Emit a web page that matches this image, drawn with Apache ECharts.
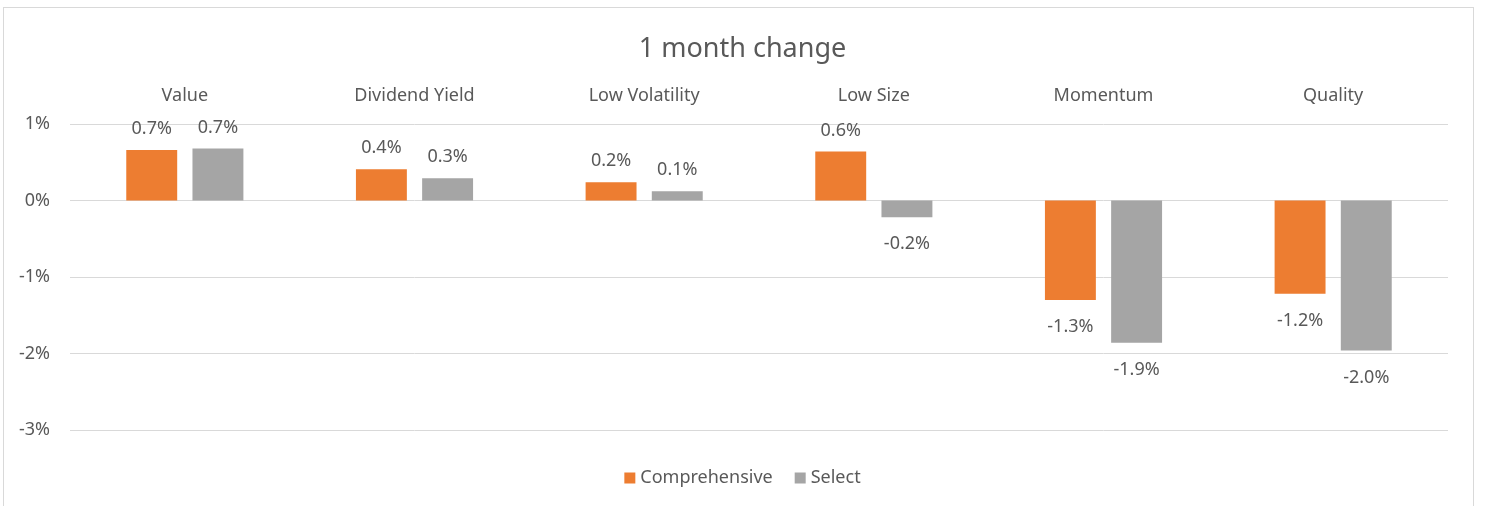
<!DOCTYPE html>
<html>
<head>
<meta charset="utf-8">
<script src="https://cdn.jsdelivr.net/npm/echarts@6/dist/echarts.min.js"></script>
<style>
	body { margin: 0; background: #fff; }
	#frame { position: absolute; left: 3px; top: 7px; width: 1471px; height: 520px; border: 1px solid #d9d9d9; box-sizing: border-box; }
	#chart { position: absolute; left: 0; top: 0; width: 1485px; height: 506px; }
</style>
</head>
<body>
<div id="frame"></div>
<div id="chart"></div>
<script>
// categories and values (in %)
var categories = ["Value", "Dividend Yield", "Low Volatility", "Low Size", "Momentum", "Quality"];
var comprehensive = [0.66, 0.41, 0.24, 0.64, -1.30, -1.22];
var select = [0.68, 0.29, 0.12, -0.22, -1.86, -1.96];
var yTicks = [-3, -2, -1, 0, 1];

var textColor = "#595959";
var fontName = "'Noto Sans', 'Open Sans', sans-serif";

function toData(values) {
	return values.map(function (v) {
		return {
			value: v,
			label: v >= 0 ? { position: "top", distance: 12 } : { position: "bottom", distance: 18 }
		};
	});
}

var myChart = echarts.init(document.getElementById("chart"));
myChart.setOption({
	animation: false,
	textStyle: { fontFamily: fontName },
	title: {
		text: "1 month change",
		left: "center",
		top: 31,
		textStyle: { fontSize: 27, fontWeight: "normal", color: textColor, fontFamily: fontName }
	},
	legend: {
		bottom: 14,
		left: "center",
		itemWidth: 11,
		itemHeight: 11,
		itemGap: 22,
		icon: "rect",
		textStyle: { fontSize: 18, color: textColor },
		data: ["Comprehensive", "Select"]
	},
	grid: {
		left: 70,
		right: 37,
		top: 124,
		bottom: 76
	},
	xAxis: {
		type: "category",
		position: "top",
		data: categories,
		axisLine: { show: false },
		axisTick: { show: false },
		axisLabel: { fontSize: 18, color: textColor, margin: 19 }
	},
	yAxis: {
		type: "value",
		min: yTicks[0],
		max: yTicks[yTicks.length - 1],
		interval: 1,
		axisLine: { show: false },
		axisTick: { show: false },
		axisLabel: { fontSize: 18, color: textColor, margin: 20, formatter: function (v) { return v + "%"; } },
		splitLine: { lineStyle: { color: "#d9d9d9", width: 1 } }
	},
	series: [{
		name: "Comprehensive",
		type: "bar",
		data: toData(comprehensive),
		barGap: "30%",
		barCategoryGap: "49%",
		itemStyle: { color: "#ED7D31" },
		label: {
			show: true,
			fontSize: 18,
			color: textColor,
			formatter: function (p) { return p.value.toFixed(1) + "%"; }
		}
	}, {
		name: "Select",
		type: "bar",
		data: toData(select),
		barGap: "30%",
		barCategoryGap: "49%",
		itemStyle: { color: "#A5A5A5" },
		label: {
			show: true,
			fontSize: 18,
			color: textColor,
			formatter: function (p) { return p.value.toFixed(1) + "%"; }
		}
	}]
});
</script>
</body>
</html>
